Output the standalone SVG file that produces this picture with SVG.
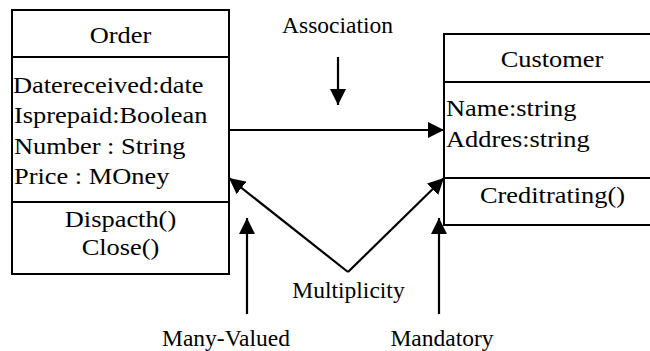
<svg xmlns="http://www.w3.org/2000/svg" width="650" height="351" viewBox="0 0 650 351">
<defs>
<marker id="ah" viewBox="0 0 16 16" refX="16" refY="8" markerWidth="16" markerHeight="16" orient="auto" markerUnits="userSpaceOnUse">
<path d="M0,0 L16,8 L0,16 z" fill="#000"/>
</marker>
</defs>
<rect width="650" height="351" fill="#fff"/>
<g id="order" font-family="Liberation Serif" font-size="24">
<rect x="12" y="10" width="217" height="264" fill="#fff" stroke="#000" stroke-width="2"/>
<line x1="12" y1="57" x2="229" y2="57" stroke="#000" stroke-width="2"/>
<line x1="12" y1="202" x2="229" y2="202" stroke="#000" stroke-width="2"/>
<text transform="matrix(1.1 0 0 1 120.5 43)" text-anchor="middle">Order</text>
<text transform="matrix(1.1 0 0 1 13 92.5)">Datereceived:date</text>
<text transform="matrix(1.1 0 0 1 14 123)">Isprepaid:Boolean</text>
<text transform="matrix(1.1 0 0 1 14 153.5)">Number : String</text>
<text transform="matrix(1.1 0 0 1 14 184)">Price : MOney</text>
<text transform="matrix(1.1 0 0 1 120.5 226.5)" text-anchor="middle">Dispacth()</text>
<text transform="matrix(1.1 0 0 1 120.5 255)" text-anchor="middle">Close()</text>
</g>
<g id="customer" font-family="Liberation Serif" font-size="24">
<rect x="444" y="34" width="220" height="191" fill="#fff" stroke="#000" stroke-width="2"/>
<line x1="444" y1="82" x2="664" y2="82" stroke="#000" stroke-width="2"/>
<line x1="444" y1="178" x2="664" y2="178" stroke="#000" stroke-width="2"/>
<text transform="matrix(1.1 0 0 1 552 66.5)" text-anchor="middle">Customer</text>
<text transform="matrix(1.1 0 0 1 446 116)">Name:string</text>
<text transform="matrix(1.1 0 0 1 446 146.5)">Addres:string</text>
<text transform="matrix(1.1 0 0 1 552.5 202.5)" text-anchor="middle">Creditrating()</text>
</g>
<g id="labels" font-family="Liberation Serif" font-size="23.5" text-anchor="middle">
<text x="337.5" y="33">Association</text>
<text x="348.5" y="298">Multiplicity</text>
<text x="226" y="346">Many-Valued</text>
<text x="442" y="346">Mandatory</text>
</g>
<g id="connectors" stroke="#000" stroke-width="2.2" fill="none" marker-end="url(#ah)">
<line x1="229" y1="130" x2="444" y2="130"/>
<line x1="338" y1="57" x2="338" y2="105"/>
<line x1="348" y1="272" x2="229" y2="178"/>
<line x1="348" y1="272" x2="444" y2="178"/>
<line x1="247" y1="314" x2="247" y2="218"/>
<line x1="439" y1="314" x2="439" y2="218"/>
</g>
</svg>
